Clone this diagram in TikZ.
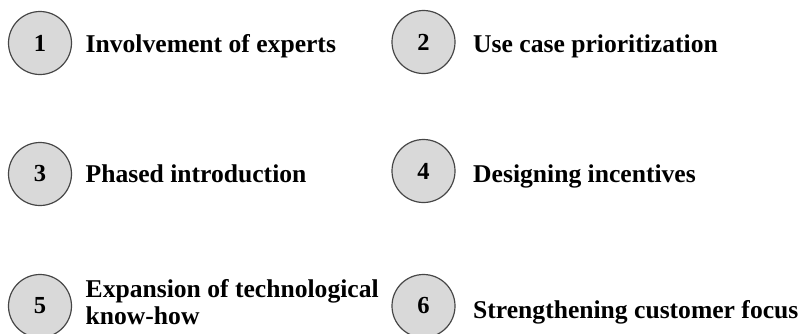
\documentclass[tikz,border=0pt]{standalone}
\usepackage{fontspec}
\setmainfont{Liberation Serif}
\usetikzlibrary{positioning}
\definecolor{numfill}{RGB}{217,217,217}
\definecolor{numline}{RGB}{70,70,70}

\begin{document}
\begin{tikzpicture}[
		x=1pt, y=-1pt,
		line width=1.2pt,
		num/.style={circle, draw=numline, fill=numfill, minimum size=63pt, inner sep=0pt, font=\fontsize{24.5}{24.5}\selectfont\bfseries},
		item/.style={inner sep=0pt, align=left, font=\fontsize{25.6}{27.5}\selectfont\bfseries},
	]
		\path[use as bounding box] (0,0) rectangle (801,333);

		\node (num 1) [num] at (40,43) {1};
		\node (num 2) [num] at (423.5,42) {2};
		\node (num 3) [num] at (40,174) {3};
		\node (num 4) [num] at (423.5,171) {4};
		\node (num 5) [num] at (40,306) {5};
		\node (num 6) [num] at (423.5,306) {6};

		\node (item 1) [item, right=13pt of num 1.east, anchor=base west, yshift=-9pt] {Involvement of experts};
		\node (item 2) [item, right=17pt of num 2.east, anchor=base west, yshift=-10pt] {Use case prioritization};
		\node (item 3) [item, right=13pt of num 3.east, anchor=base west, yshift=-8pt] {Phased introduction};
		\node (item 4) [item, right=17pt of num 4.east, anchor=base west, yshift=-11pt] {Designing incentives};
		\node (item 5) [item, right=13pt of num 5.east, anchor=west, yshift=4pt] {Expansion of technological\\know-how};
		\node (item 6) [item, right=17pt of num 6.east, anchor=base west, yshift=-12pt] {Strengthening customer focus};
	\end{tikzpicture}
\end{document}
